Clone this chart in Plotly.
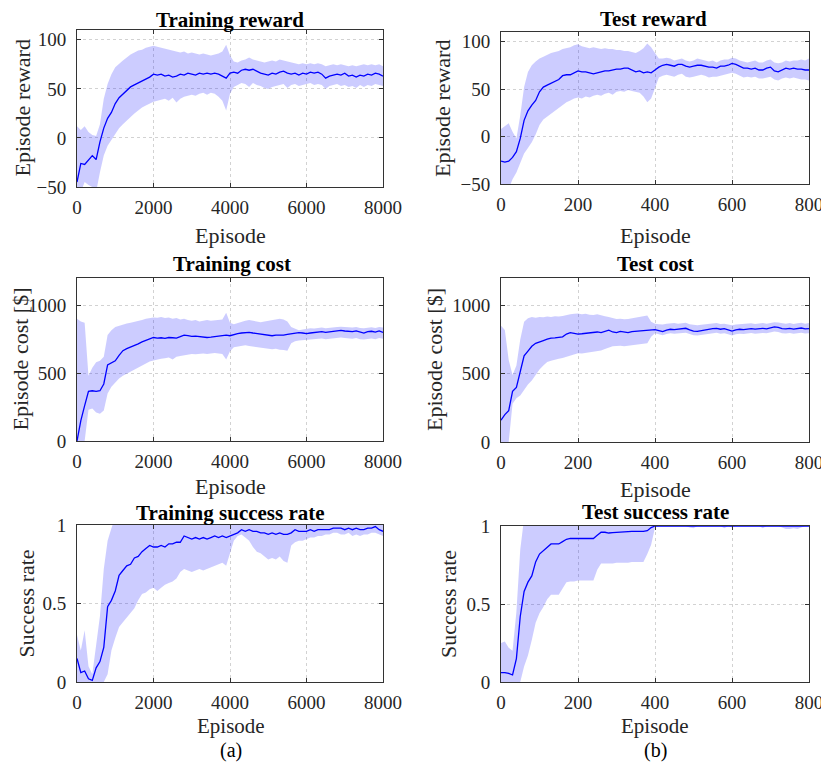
import plotly.graph_objects as go

# ---------------- data ----------------
train_ep = list(range(0, 8001, 100))
test_ep = list(range(0, 801, 10))

train_reward_mean = [-45, -26, -27, -23, -18, -22, -4, 10, 20, 26, 35, 41, 45, 48, 52, 54, 56, 58, 60, 62,
                     65, 64, 65, 63, 64, 62, 63, 65, 64, 66, 65, 64, 66, 65, 66, 65, 66, 65, 63, 61,
                     66, 67, 66, 69, 70, 69, 70, 68, 66, 65, 64, 66, 65, 67, 68, 66, 65, 66, 64, 66,
                     65, 67, 66, 67, 65, 61, 63, 64, 65, 64, 66, 63, 64, 62, 64, 63, 65, 64, 66, 65, 63]
train_reward_upper = [12, 8, 12, 6, 3, 2, 14, 40, 55, 65, 72, 76, 79, 82, 85, 87, 89, 90, 92, 93,
                      94, 93, 92, 91, 90, 89, 88, 87, 88, 86, 87, 86, 85, 86, 85, 84, 85, 86, 88, 95,
                      84, 78, 77, 79, 80, 82, 80, 79, 78, 77, 78, 79, 78, 80, 79, 78, 77, 76, 75, 76,
                      75, 76, 75, 76, 75, 73, 74, 75, 74, 75, 74, 73, 74, 73, 74, 75, 74, 75, 74, 75, 73]
train_reward_lower = [-60, -55, -45, -48, -50, -55, -35, -18, -8, -2, 5, 10, 14, 18, 22, 25, 28, 31, 33, 35,
                      37, 38, 39, 40, 38, 41, 36, 40, 42, 43, 44, 43, 45, 46, 44, 46, 45, 42, 38, 28,
                      45, 52, 54, 56, 55, 52, 56, 54, 53, 51, 50, 52, 53, 54, 55, 51, 54, 55, 53, 54,
                      55, 56, 54, 55, 54, 50, 53, 54, 55, 53, 54, 52, 53, 51, 54, 52, 54, 53, 55, 54, 53]

test_reward_mean = [-26, -27, -26, -22, -16, -2, 17, 27, 33, 38, 47, 52, 54, 56, 58, 60, 64, 65, 65, 67,
                    69, 68, 68, 67, 66, 67, 68, 69, 69, 70, 71, 71, 72, 72, 70, 68, 69, 67, 68, 67,
                    70, 73, 75, 76, 75, 74, 76, 76, 74, 73, 74, 75, 75, 74, 73, 73, 72, 74, 74, 75,
                    77, 76, 74, 72, 72, 71, 72, 70, 70, 72, 73, 69, 68, 70, 72, 71, 72, 71, 71, 70, 70]
test_reward_upper = [8, 11, 14, 5, -2, 22, 52, 68, 75, 79, 82, 84, 86, 88, 89, 90, 92, 93, 94, 96,
                     97, 95, 94, 93, 94, 93, 92, 93, 92, 92, 91, 91, 90, 90, 89, 88, 90, 93, 98, 94,
                     88, 82, 82, 83, 82, 80, 81, 82, 80, 79, 80, 82, 81, 80, 79, 80, 78, 80, 81, 81,
                     83, 82, 80, 79, 78, 79, 80, 78, 78, 80, 81, 78, 77, 78, 80, 79, 80, 80, 81, 80, 82]
test_reward_lower = [-60, -58, -55, -45, -38, -28, -18, -12, -6, 2, 12, 18, 21, 24, 27, 30, 33, 36, 38, 40,
                     41, 40, 42, 41, 43, 44, 43, 45, 46, 44, 47, 48, 47, 49, 48, 47, 46, 42, 36, 40,
                     50, 62, 64, 65, 64, 63, 65, 66, 63, 62, 63, 64, 65, 64, 62, 63, 63, 64, 65, 66,
                     67, 66, 64, 62, 63, 62, 63, 61, 61, 62, 63, 60, 59, 61, 62, 61, 62, 61, 60, 60, 59]

train_cost_mean = [0, 150, 260, 365, 370, 365, 370, 420, 560, 575, 590, 630, 665, 680, 690, 705, 715, 730, 740, 755,
                   762, 758, 760, 755, 762, 760, 758, 768, 780, 775, 770, 772, 768, 765, 762, 765, 770, 772, 778, 780,
                   775, 785, 790, 795, 798, 800, 795, 790, 785, 780, 778, 775, 780, 778, 780, 785, 790, 795, 798, 795,
                   790, 795, 800, 802, 805, 800, 805, 808, 812, 815, 810, 808, 805, 810, 800, 795, 805, 808, 802, 810, 800]
train_cost_upper = [900, 880, 870, 480, 540, 580, 590, 620, 780, 815, 840, 850, 860, 865, 870, 875, 880, 890, 900, 905,
                    910, 908, 912, 905, 910, 900, 905, 895, 900, 890, 885, 890, 880, 885, 890, 885, 888, 892, 895, 945,
                    870, 860, 870, 880, 885, 890, 885, 880, 875, 880, 885, 890, 895, 900, 895, 880, 840, 825, 815, 820,
                    825, 830, 828, 832, 835, 830, 835, 838, 840, 842, 840, 838, 835, 840, 832, 830, 835, 838, 832, 840, 835]
train_cost_lower = [0, 0, 0, 230, 240, 210, 200, 225, 350, 400, 430, 460, 480, 495, 510, 530, 545, 560, 575, 585,
                    592, 600, 605, 610, 615, 600, 620, 625, 630, 635, 640, 638, 642, 645, 640, 645, 648, 645, 640, 600,
                    660, 690, 695, 700, 705, 700, 695, 690, 685, 680, 678, 675, 680, 672, 670, 665, 720, 735, 740, 742,
                    745, 748, 750, 752, 755, 750, 752, 755, 760, 762, 758, 755, 752, 758, 750, 748, 752, 755, 750, 758, 752]

test_cost_mean = [160, 200, 230, 370, 400, 520, 630, 665, 700, 722, 735, 742, 752, 760, 762, 765, 770, 790, 800, 795,
                  790, 792, 795, 800, 798, 805, 800, 810, 818, 805, 800, 810, 803, 800, 808, 810, 812, 815, 818, 820,
                  822, 815, 808, 818, 825, 822, 825, 828, 832, 820, 812, 810, 815, 822, 828, 830, 832, 825, 830, 820,
                  812, 820, 825, 822, 828, 830, 826, 830, 832, 828, 835, 842, 838, 830, 828, 832, 826, 830, 834, 828, 830]
test_cost_upper = [850, 820, 600, 490, 560, 750, 880, 905, 915, 910, 915, 912, 918, 915, 920, 918, 922, 930, 935, 938,
                   940, 935, 938, 932, 930, 935, 925, 920, 915, 905, 900, 902, 898, 900, 905, 910, 915, 920, 925, 880,
                   865, 862, 860, 865, 868, 870, 866, 868, 872, 862, 858, 855, 858, 862, 866, 868, 870, 864, 866, 860,
                   855, 860, 862, 860, 865, 868, 864, 866, 870, 866, 872, 876, 874, 868, 866, 870, 864, 868, 872, 866, 870]
test_cost_lower = [0, 0, 0, 280, 320, 340, 380, 420, 450, 490, 530, 560, 585, 595, 605, 610, 615, 625, 635, 645,
                   650, 648, 652, 658, 660, 665, 670, 680, 690, 700, 702, 705, 700, 705, 710, 712, 715, 718, 722, 770,
                   795, 788, 782, 790, 795, 792, 795, 798, 800, 790, 782, 780, 785, 790, 795, 798, 800, 792, 795, 788,
                   780, 788, 792, 790, 795, 798, 792, 796, 798, 795, 800, 808, 805, 796, 794, 798, 792, 796, 800, 794, 795]

train_succ_mean = [0.15, 0.06, 0.07, 0.02, 0.01, 0.09, 0.13, 0.22, 0.48, 0.52, 0.58, 0.68, 0.71, 0.74, 0.75, 0.79, 0.80, 0.83, 0.85, 0.87,
                   0.86, 0.86, 0.87, 0.86, 0.88, 0.88, 0.89, 0.89, 0.93, 0.92, 0.91, 0.92, 0.91, 0.92, 0.91, 0.92, 0.93, 0.92, 0.93, 0.92,
                   0.93, 0.94, 0.95, 0.97, 0.96, 0.97, 0.96, 0.96, 0.95, 0.95, 0.94, 0.95, 0.94, 0.95, 0.94, 0.94, 0.95, 0.97, 0.96, 0.96,
                   0.96, 0.97, 0.96, 0.97, 0.97, 0.97, 0.97, 0.98, 0.98, 0.98, 0.97, 0.98, 0.97, 0.98, 0.97, 0.97, 0.98, 0.98, 0.99, 0.97, 0.96]
train_succ_upper = [0.30, 0.20, 0.33, 0.10, 0.05, 0.25, 0.42, 0.72, 0.90, 0.98] + [1.05] * 71
train_succ_lower = [0.0, 0.0, 0.0, 0.0, 0.0, 0.0, 0.0, 0.0, 0.05, 0.20, 0.28, 0.35, 0.38, 0.41, 0.44, 0.47, 0.52, 0.56, 0.57, 0.59,
                    0.60, 0.58, 0.60, 0.62, 0.63, 0.64, 0.66, 0.70, 0.72, 0.71, 0.70, 0.71, 0.72, 0.71, 0.72, 0.73, 0.74, 0.75, 0.76, 0.74,
                    0.82, 0.90, 0.93, 0.94, 0.92, 0.90, 0.86, 0.83, 0.82, 0.80, 0.78, 0.79, 0.78, 0.80, 0.77, 0.76, 0.87, 0.89, 0.90, 0.90,
                    0.91, 0.92, 0.92, 0.93, 0.93, 0.94, 0.94, 0.95, 0.95, 0.94, 0.94, 0.95, 0.93, 0.94, 0.93, 0.94, 0.94, 0.95, 0.95, 0.94, 0.93]

test_succ_mean = [0.06, 0.06, 0.055, 0.045, 0.15, 0.42, 0.58, 0.64, 0.68, 0.77, 0.82, 0.84, 0.86, 0.885, 0.885, 0.885, 0.90, 0.915, 0.92, 0.92,
                  0.92, 0.92, 0.92, 0.918, 0.92, 0.94, 0.96, 0.96, 0.955, 0.958, 0.96, 0.962, 0.965, 0.965, 0.965, 0.965, 0.965, 0.965, 0.97, 0.99,
                  1.0] + [1.0] * 40
test_succ_upper = [0.25, 0.26, 0.22, 0.20, 0.45, 0.85] + [1.05] * 75
test_succ_lower = [0.0, 0.0, 0.0, 0.0, 0.0, 0.0, 0.10, 0.17, 0.27, 0.38, 0.44, 0.48, 0.53, 0.56, 0.56, 0.56, 0.60, 0.64, 0.645, 0.645,
                   0.65, 0.65, 0.65, 0.65, 0.65, 0.72, 0.76, 0.76, 0.76, 0.76, 0.765, 0.765, 0.765, 0.765, 0.77, 0.77, 0.77, 0.77, 0.82, 0.88,
                   0.99, 1.0, 1.0, 1.0, 1.0, 1.0, 1.0, 1.0, 1.0, 0.99, 0.985, 1.0, 1.0, 1.0, 1.0, 1.0, 1.0, 1.0, 0.985, 1.0,
                   0.99, 1.0, 1.0, 1.0, 1.0, 1.0, 1.0, 1.0, 0.985, 1.0, 1.0, 1.0, 1.0, 0.99, 0.98, 0.98, 0.985, 0.98, 0.99, 1.0, 1.0]

panel_titles = ["Training reward", "Test reward", "Training cost", "Test cost",
                "Training success rate", "Test success rate"]
y_titles = ["Episode reward", "Episode reward", "Episode cost [$]", "Episode cost [$]",
            "Success rate", "Success rate"]
train_xticks = [0, 2000, 4000, 6000, 8000]
test_xticks = [0, 200, 400, 600, 800]
reward_yticks = [-50, 0, 50, 100]
cost_yticks = [0, 500, 1000]
succ_yticks = [0, 0.5, 1]
succ_yticklabels = ["0", "0.5", "1"]

# ---------------- layout geometry (pixels in the 829x770 window) ----------------
OFF = 8                          # page body margin of the browser
W, H = 829 - OFF, 770 - 2 * OFF  # figure size so the page does not scroll
FONT = "Liberation Serif"
FILL = "rgba(0,0,255,0.2)"
LINE = "#0000ff"
AXC = "#333333"

# (x0, x1, y0_top, y1_bottom) in window pixels
boxes = [
    (77, 383, 30, 187), (501, 809, 32, 184),
    (77, 383, 278, 441), (501, 809, 278, 442),
    (77, 383, 525, 682), (501, 809, 526, 682),
]
panel_data = [
    (train_ep, train_reward_mean, train_reward_upper, train_reward_lower),
    (test_ep, test_reward_mean, test_reward_upper, test_reward_lower),
    (train_ep, train_cost_mean, train_cost_upper, train_cost_lower),
    (test_ep, test_cost_mean, test_cost_upper, test_cost_lower),
    (train_ep, train_succ_mean, train_succ_upper, train_succ_lower),
    (test_ep, test_succ_mean, test_succ_upper, test_succ_lower),
]
yranges = [[-50, 110], [-50, 110], [0, 1200], [0, 1200], [0, 1], [0, 1]]
yticks = [reward_yticks, reward_yticks, cost_yticks, cost_yticks, succ_yticks, succ_yticks]
yticktext = [None, None, None, None, succ_yticklabels, succ_yticklabels]

title_pos = [(230, 20), (653, 19), (232, 264), (655, 264), (231, 513), (655, 512)]
xlab_pos = [(231, 235), (655, 236), (231, 486), (655, 489), (231, 726), (655, 726)]
xlab_size = [22, 22, 22, 22, 21, 21]
ylab_x = [22, 443, 20, 434, 26, 448]
sub_labels = ["(a)", "(b)"]
sub_pos = [(231, 750), (655, 750)]

fig = go.Figure()
annotations = []

def px_x(v):
    return (v - OFF) / W

def px_y(v):
    return 1 - (v - OFF) / H

for i in range(6):
    n = i + 1
    xs, m, up, lo = panel_data[i]
    xa = "x" if n == 1 else f"x{n}"
    ya = "y" if n == 1 else f"y{n}"
    fig.add_trace(go.Scatter(x=xs, y=lo, mode="lines", line=dict(width=0, color=FILL),
                             xaxis=xa, yaxis=ya, showlegend=False, hoverinfo="skip"))
    fig.add_trace(go.Scatter(x=xs, y=up, mode="lines", line=dict(width=0, color=FILL),
                             fill="tonexty", fillcolor=FILL,
                             xaxis=xa, yaxis=ya, showlegend=False, hoverinfo="skip"))
    fig.add_trace(go.Scatter(x=xs, y=m, mode="lines", line=dict(width=1.3, color=LINE),
                             xaxis=xa, yaxis=ya, showlegend=False))

    x0, x1, yt, yb = boxes[i]
    is_train = (i % 2 == 0)
    xaxis = dict(
        domain=[px_x(x0), px_x(x1)], anchor=ya, automargin=False,
        range=[0, 8000] if is_train else [0, 800],
        tickvals=train_xticks if is_train else test_xticks,
        ticks="inside", ticklen=4, tickcolor=AXC, tickwidth=1,
        showline=True, linecolor=AXC, linewidth=1, mirror="ticks",
        showgrid=True, gridcolor="#d2d2d2", griddash="dot", gridwidth=1,
        zeroline=False, tickfont=dict(family=FONT, size=19, color="#262626"),
        ticklabelstandoff=3,
    )
    yaxis = dict(
        domain=[px_y(yb), px_y(yt)], anchor=xa, automargin=False,
        range=yranges[i], tickvals=yticks[i],
        ticks="inside", ticklen=4, tickcolor=AXC, tickwidth=1,
        showline=True, linecolor=AXC, linewidth=1, mirror="ticks",
        showgrid=True, gridcolor="#d2d2d2", griddash="dot", gridwidth=1,
        zeroline=False, tickfont=dict(family=FONT, size=19, color="#262626"),
        ticklabelstandoff=6,
    )
    if yticktext[i] is not None:
        yaxis["ticktext"] = yticktext[i]
    fig.update_layout(**{("xaxis" if n == 1 else f"xaxis{n}"): xaxis,
                         ("yaxis" if n == 1 else f"yaxis{n}"): yaxis})

    tx, ty = title_pos[i]
    annotations.append(dict(text="<b>" + panel_titles[i] + "</b>", x=px_x(tx), y=px_y(ty),
                            xref="paper", yref="paper", xanchor="center", yanchor="middle",
                            showarrow=False, font=dict(family=FONT, size=21, color="#000000")))
    lx, ly = xlab_pos[i]
    annotations.append(dict(text="Episode", x=px_x(lx), y=px_y(ly),
                            xref="paper", yref="paper", xanchor="center", yanchor="middle",
                            showarrow=False, font=dict(family=FONT, size=xlab_size[i], color="#262626")))
    annotations.append(dict(text=y_titles[i], x=px_x(ylab_x[i]), y=px_y((yt + yb) / 2),
                            xref="paper", yref="paper", xanchor="center", yanchor="middle",
                            textangle=-90, showarrow=False,
                            font=dict(family=FONT, size=22, color="#262626")))

for lab, (sx, sy) in zip(sub_labels, sub_pos):
    annotations.append(dict(text=lab, x=px_x(sx), y=px_y(sy), xref="paper", yref="paper",
                            xanchor="center", yanchor="middle", showarrow=False,
                            font=dict(family=FONT, size=20, color="#000000")))

fig.update_layout(width=W, height=H, margin=dict(l=0, r=0, t=0, b=0, autoexpand=False),
                  paper_bgcolor="white", plot_bgcolor="white",
                  annotations=annotations, showlegend=False)

fig.write_html("out.html")
